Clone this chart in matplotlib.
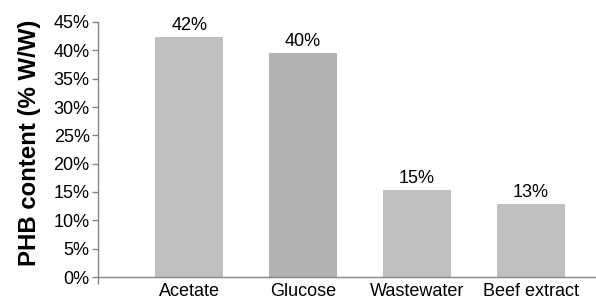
import matplotlib
matplotlib.use("Agg")
import matplotlib.pyplot as plt

categories = ["Acetate", "Glucose", "Wastewater", "Beef extract"]
values = [42.3, 39.6, 15.3, 12.9]
labels = ["42%", "40%", "15%", "13%"]
colors = ["#bfbfbf", "#b2b2b2", "#bfbfbf", "#bfbfbf"]
yticks = [0, 5, 10, 15, 20, 25, 30, 35, 40, 45]

plt.rcParams['font.family'] = ['Liberation Sans', 'DejaVu Sans']

fig = plt.figure(figsize=(5.96, 3.0), dpi=100)
ax = fig.add_axes([98/596, 1 - 277/300, 1 - 98/596, (277 - 22)/300])

x = list(range(len(categories)))
bars = ax.bar(x, values, width=0.6, color=colors, edgecolor="none", zorder=2)
for xi, v, lab in zip(x, values, labels):
    ax.text(xi, v + 0.5, lab, ha="center", va="bottom", fontsize=13, color="#000000")

ax.set_xlim(-0.8, 3.57)
ax.set_ylim(0, 45)
ax.set_yticks(yticks)
ax.set_yticklabels([f"{t}%" for t in yticks], fontsize=13)
ax.set_xticks(x)
ax.set_xticklabels(categories, fontsize=13)
ax.tick_params(axis="x", length=0, pad=4)
ax.set_xticks([-0.8], minor=True)
ax.tick_params(axis="x", which="minor", length=5, color="#868686", width=1)
ax.tick_params(axis="y", length=4, color="#868686", width=1, pad=2)

for s in ["top", "right"]:
    ax.spines[s].set_visible(False)
for s in ["left", "bottom"]:
    ax.spines[s].set_color("#868686")
    ax.spines[s].set_linewidth(1)

ax.set_ylabel("PHB content (% W/W)", fontsize=17.3, fontweight="bold")
ax.yaxis.set_label_coords(-0.115, 0.525)

fig.savefig("out.png", dpi=100)
